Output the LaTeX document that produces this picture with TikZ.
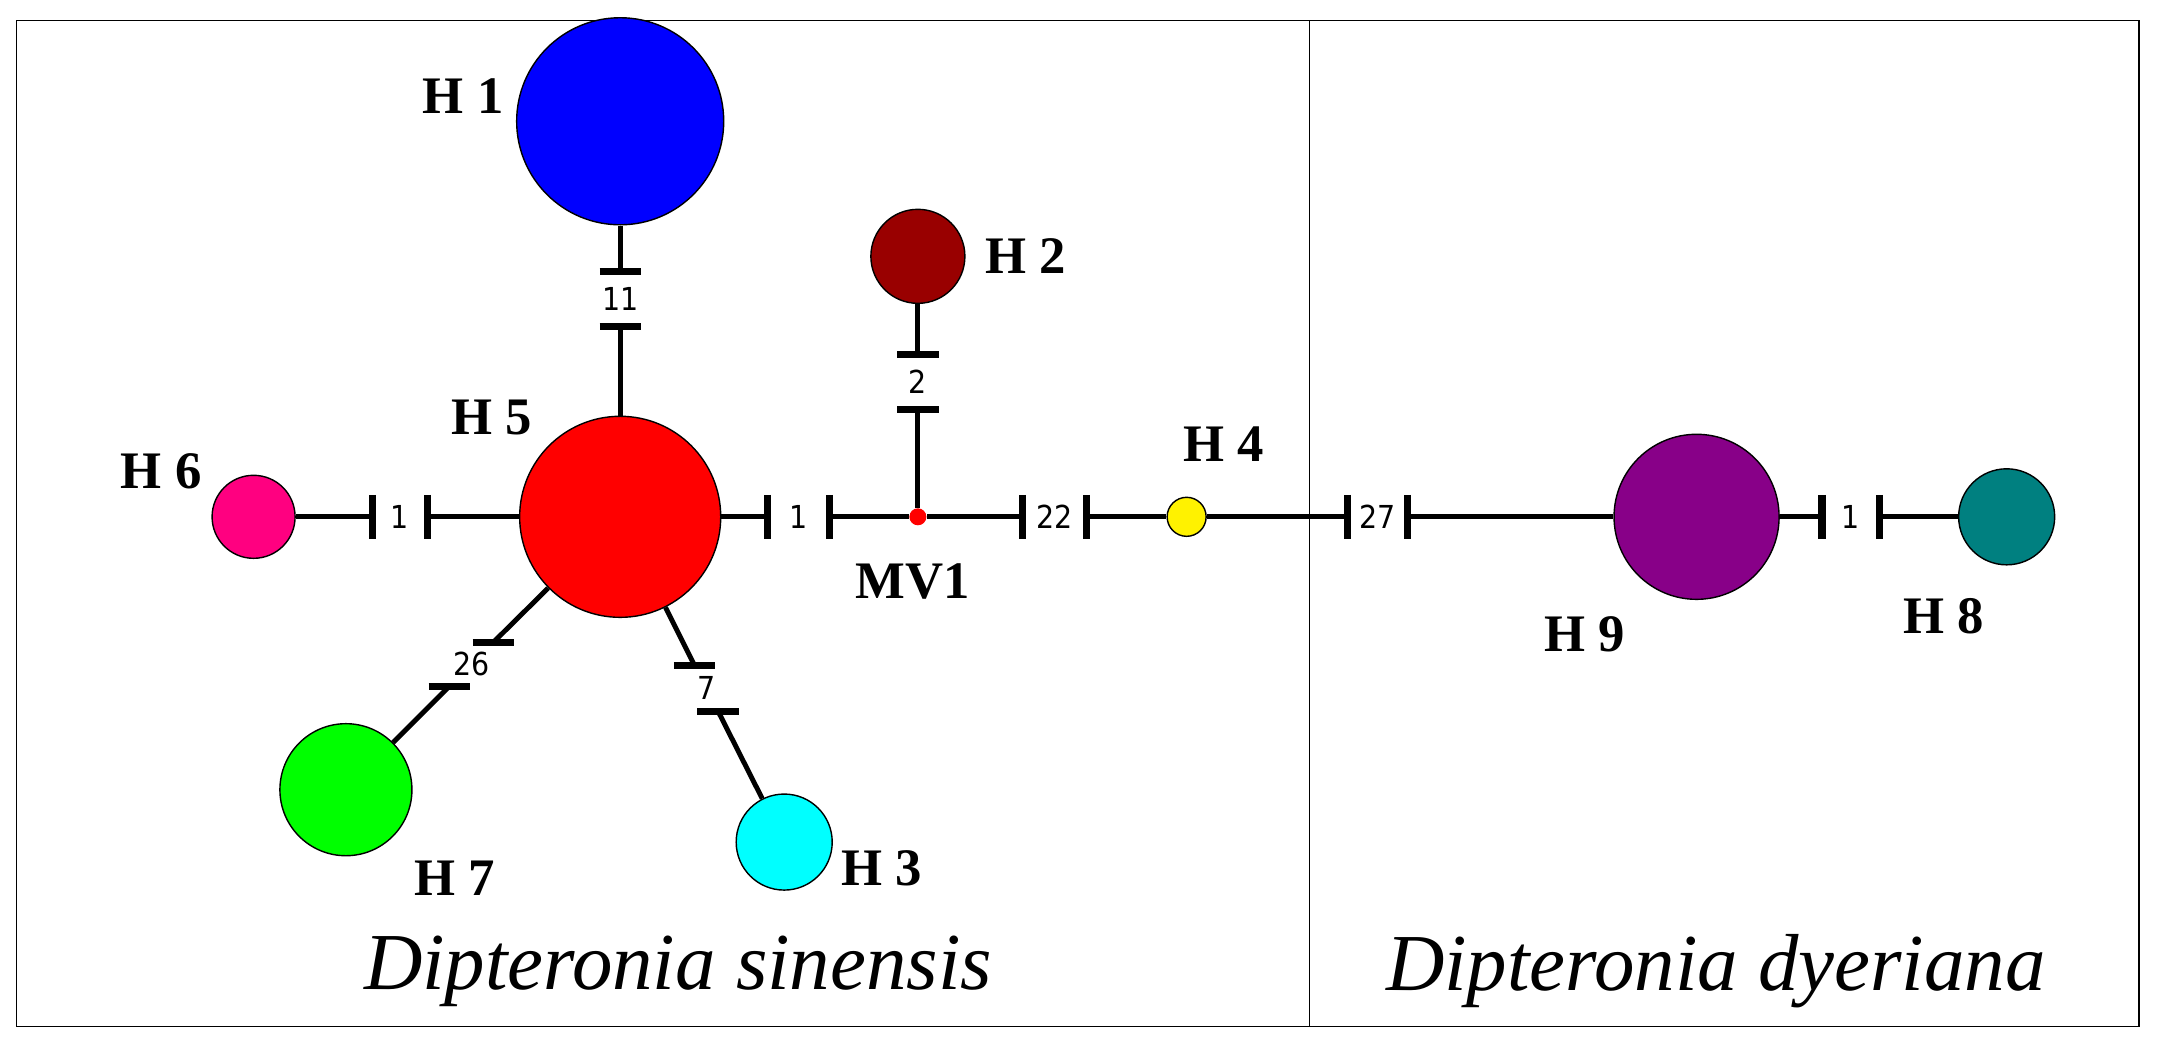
\documentclass[tikz,border=0pt]{standalone}
\usepackage{fontspec}
\setmainfont{Liberation Serif}
\newfontfamily\numfont{DejaVu Sans Condensed}
\usetikzlibrary{calc}
\definecolor{hblue}{RGB}{0,0,255}
\definecolor{hmaroon}{RGB}{153,0,0}
\definecolor{hpink}{RGB}{255,0,128}
\definecolor{hpurple}{RGB}{136,0,136}
\definecolor{hteal}{RGB}{0,128,128}
\definecolor{hgreen}{RGB}{0,255,0}
\definecolor{hcyan}{RGB}{0,255,255}
\begin{document}
\begin{tikzpicture}[
        x=0.01378cm, y=-0.01378cm,
        hap/.style={circle, draw=black, thin, inner sep=0pt},
        hlabel/.style={font=\fontsize{15}{15}\selectfont\bfseries},
        count/.style={font=\numfont\fontsize{9}{9}\selectfont, inner sep=0pt},
        edge/.style={line width=1.4pt},
        vbar/.style={line width=2pt},
        title/.style={font=\fontsize{23}{23}\selectfont\itshape}
    ]
    \useasboundingbox (0,0) rectangle (1568,752);
    \draw[thin] (12,15) rectangle (1552,745);
    \draw[thin] (950,15) -- (950,745);

    % Haplotypes
    \node[hap, fill=hblue, minimum size=2.07cm] (H1) at (450,88) {};
    \node[hap, fill=hmaroon, minimum size=0.94cm] (H2) at (666,186) {};
    \node[hap, fill=red, minimum size=2.01cm] (H5) at (450,375) {};
    \node[hap, fill=hpink, minimum size=0.83cm] (H6) at (184,375) {};
    \node[circle, fill=red, inner sep=0pt, minimum size=0.17cm] (MV1) at (666,375) {};
    \node[hap, fill=yellow, minimum size=0.39cm] (H4) at (861,375) {};
    \node[hap, fill=hpurple, minimum size=1.65cm] (H9) at (1231,375) {};
    \node[hap, fill=hteal, minimum size=0.96cm] (H8) at (1456,375) {};
    \node[hap, fill=hgreen, minimum size=1.32cm] (H7) at (251,573) {};
    \node[hap, fill=hcyan, minimum size=0.96cm] (H3) at (569,611) {};

    % Labels
    \node[hlabel] (l1) at (336,70) {H 1};
    \node[hlabel] (l2) at (744,186) {H 2};
    \node[hlabel] (l5) at (357,303) {H 5};
    \node[hlabel] (l6) at (117,342) {H 6};
    \node[hlabel] (lmv) at (662,422) {MV1};
    \node[hlabel] (l4) at (888,322) {H 4};
    \node[hlabel] (l9) at (1150,460) {H 9};
    \node[hlabel] (l8) at (1410,447) {H 8};
    \node[hlabel] (l7) at (330,637) {H 7};
    \node[hlabel] (l3) at (640,630) {H 3};
    \node[title] (sin) at (492,705) {Dipteronia sinensis};
    \node[title] (dye) at (1245,705) {Dipteronia dyeriana};

    % Mutation steps: horizontal edges
    \coordinate (a1) at (270,375); \coordinate (b1) at (310,375);
    \coordinate (a2) at (557,375); \coordinate (b2) at (602,375);
    \coordinate (a3) at (742,375); \coordinate (b3) at (788,375);
    \coordinate (a4) at (978,375); \coordinate (b4) at (1021,375);
    \coordinate (a5) at (1322,375); \coordinate (b5) at (1364,375);
    \draw[edge] (H6) -- (a1) (b1) -- (H5);
    \draw[edge] (H5) -- (a2) (b2) -- (MV1);
    \draw[edge] (MV1) -- (a3) (b3) -- (H4);
    \draw[edge] (H4) -- (a4) (b4) -- (H9);
    \draw[edge] (H9) -- (a5) (b5) -- (H8);
    \foreach \p in {a1,b1,a2,b2,a3,b3,a4,b4,a5,b5}
        \draw[vbar] (\p) ++(0,-16) -- ++(0,32);
    \node[count] (n1) at ($(a1)!0.5!(b1)$) {1};
    \node[count] (n2) at ($(a2)!0.5!(b2)$) {1};
    \node[count] (n3) at ($(a3)!0.5!(b3)$) {22};
    \node[count] (n4) at ($(a4)!0.5!(b4)$) {27};
    \node[count] (n5) at ($(a5)!0.5!(b5)$) {1};

    % Mutation steps: vertical and slanted edges
    \coordinate (c1) at (450,197); \coordinate (d1) at (450,237);
    \coordinate (c2) at (666,257); \coordinate (d2) at (666,297);
    \coordinate (c3) at (358,466); \coordinate (d3) at (326,498);
    \coordinate (c4) at (504,483); \coordinate (d4) at (521,516);
    \draw[edge] (H1) -- (c1) (d1) -- (H5);
    \draw[edge] (H2) -- (c2) (d2) -- (MV1);
    \draw[edge] (H5) -- (c3) (d3) -- (H7);
    \draw[edge] (H5) -- (c4) (d4) -- (H3);
    \foreach \p in {c1,d1,c2,d2,c3,d3,c4,d4}
        \draw[vbar] (\p) ++(-15,0) -- ++(30,0);
    \node[count] (n6) at ($(c1)!0.5!(d1)$) {11};
    \node[count] (n7) at ($(c2)!0.5!(d2)$) {2};
    \node[count] (n8) at ($(c3)!0.5!(d3)$) {26};
    \node[count] (n9) at ($(c4)!0.5!(d4)$) {7};

\end{tikzpicture}
\end{document}
